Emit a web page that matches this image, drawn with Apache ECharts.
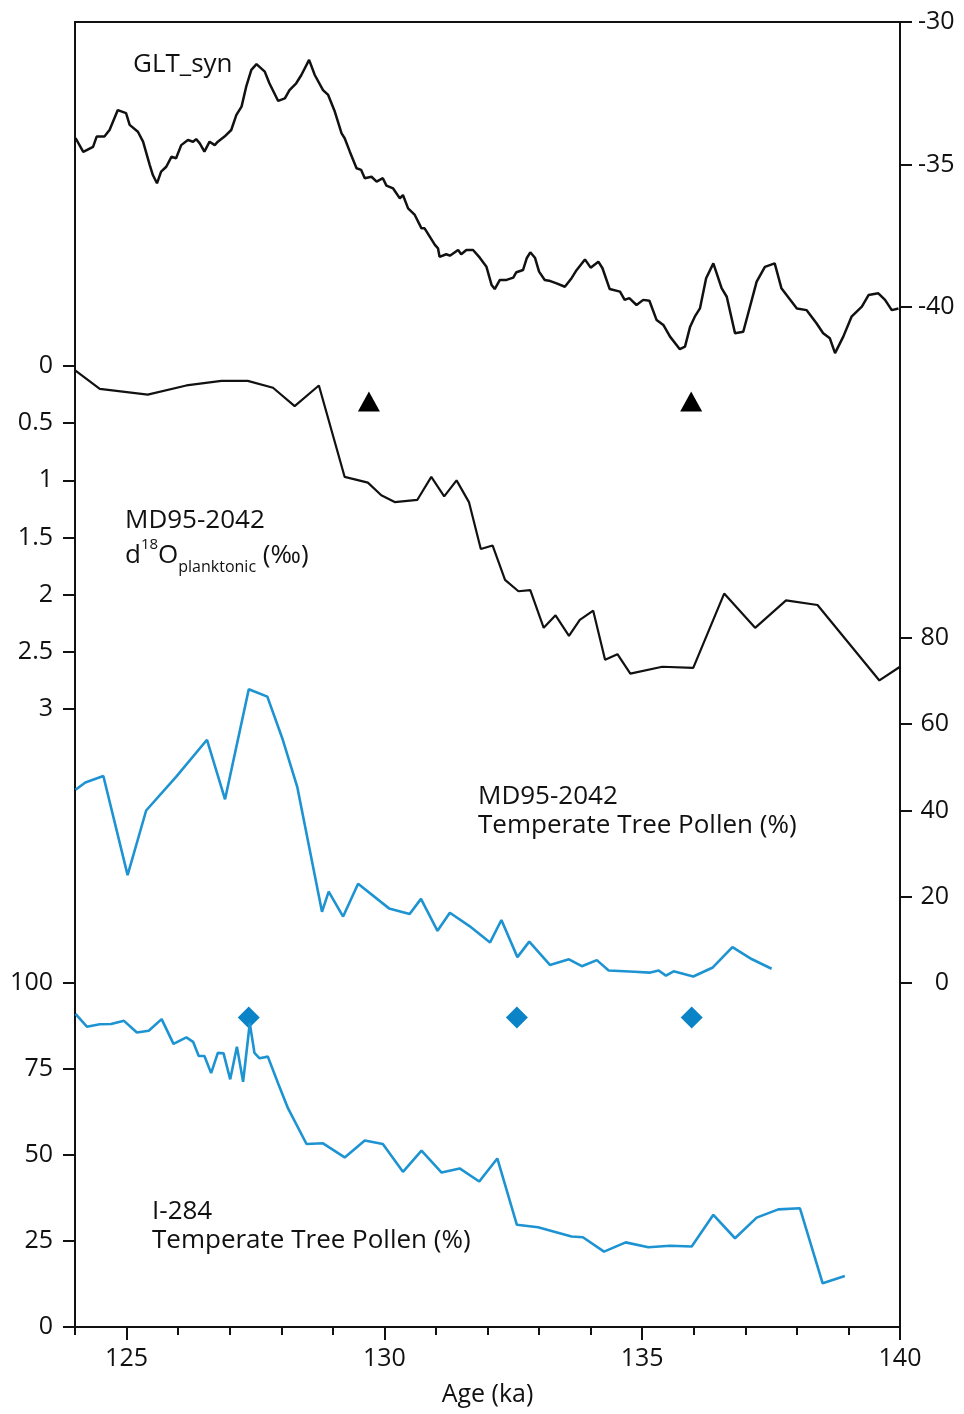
<!DOCTYPE html>
<html>
<head>
<meta charset="utf-8">
<script src="https://cdn.jsdelivr.net/npm/echarts@6/dist/echarts.min.js"></script>
<style>
  html, body { margin: 0; padding: 0; background: #fff; }
  #chart-container { width: 964px; height: 1414px; }
</style>
</head>
<body>
<div id="chart-container"></div>
<script>
// GLT_syn (right axis, top panel)
const gltAge = [124.01,124.16,124.35,124.42,124.57,124.67,124.83,124.99,125.06,125.22,125.32,125.45,125.51,125.59,125.67,125.77,125.87,125.96,126.06,126.19,126.29,126.35,126.42,126.51,126.61,126.71,126.77,126.90,127.03,127.13,127.23,127.32,127.42,127.52,127.68,127.77,127.94,128.07,128.16,128.29,128.39,128.54,128.65,128.81,128.91,129.04,129.17,129.23,129.33,129.46,129.55,129.62,129.75,129.85,129.97,130.04,130.17,130.30,130.36,130.46,130.59,130.72,130.78,130.98,131.04,131.07,131.20,131.27,131.43,131.49,131.59,131.72,131.85,131.98,132.08,132.14,132.24,132.37,132.50,132.56,132.69,132.76,132.83,132.92,133.00,133.11,133.22,133.34,133.50,133.63,133.73,133.89,134.00,134.15,134.23,134.37,134.57,134.66,134.75,134.89,135.02,135.14,135.28,135.41,135.54,135.73,135.83,135.93,136.02,136.12,136.24,136.38,136.54,136.64,136.80,136.96,137.09,137.22,137.38,137.57,137.70,137.80,138.00,138.19,138.38,138.51,138.64,138.74,138.90,139.06,139.26,139.39,139.58,139.71,139.84,139.97];
const gltVal = [-34.07,-34.56,-34.38,-34.02,-34.02,-33.79,-33.09,-33.20,-33.61,-33.85,-34.20,-35.02,-35.37,-35.66,-35.25,-35.08,-34.73,-34.78,-34.32,-34.14,-34.20,-34.11,-34.26,-34.55,-34.20,-34.32,-34.20,-34.02,-33.79,-33.26,-32.97,-32.27,-31.68,-31.48,-31.74,-32.15,-32.77,-32.68,-32.39,-32.15,-31.86,-31.33,-31.86,-32.39,-32.56,-33.15,-33.91,-34.08,-34.55,-35.13,-35.19,-35.48,-35.43,-35.60,-35.48,-35.74,-35.84,-36.19,-36.07,-36.54,-36.77,-37.24,-37.24,-37.82,-37.94,-38.24,-38.15,-38.20,-38.00,-38.15,-38.00,-38.00,-38.27,-38.59,-39.23,-39.37,-39.05,-39.05,-38.97,-38.78,-38.70,-38.29,-38.08,-38.27,-38.76,-39.05,-39.09,-39.17,-39.29,-38.99,-38.70,-38.33,-38.62,-38.41,-38.64,-39.37,-39.46,-39.75,-39.69,-39.93,-39.75,-39.78,-40.46,-40.63,-41.04,-41.48,-41.39,-40.69,-40.34,-40.05,-38.99,-38.47,-39.34,-39.64,-40.92,-40.87,-39.99,-39.11,-38.59,-38.47,-39.34,-39.58,-40.05,-40.11,-40.57,-40.92,-41.10,-41.62,-41.04,-40.34,-39.99,-39.58,-39.52,-39.75,-40.11,-40.05];

// MD95-2042 d18O planktonic (left axis, inverted)
const d18oAge = [124.01,124.48,125.41,126.16,126.84,127.35,127.84,128.26,128.73,129.23,129.68,129.94,130.20,130.64,130.91,131.16,131.40,131.64,131.87,132.10,132.34,132.60,132.83,133.09,133.32,133.58,133.79,134.05,134.28,134.52,134.77,135.39,135.99,136.59,137.19,137.79,138.40,139.60,140.00];
const d18oVal = [0.04,0.20,0.25,0.17,0.13,0.13,0.19,0.35,0.17,0.97,1.02,1.13,1.19,1.17,0.97,1.14,1.00,1.19,1.60,1.57,1.87,1.97,1.96,2.29,2.18,2.36,2.22,2.14,2.57,2.52,2.69,2.63,2.64,1.99,2.29,2.05,2.09,2.75,2.63];
const triangleAge = [129.7, 135.95];
const triangleVal = [0.31, 0.31];

// MD95-2042 temperate tree pollen (right axis)
const mdAge = [124.01,124.20,124.55,125.02,125.38,125.96,126.56,126.91,127.37,127.73,128.03,128.31,128.79,128.92,129.20,129.49,130.09,130.49,130.71,131.03,131.27,131.65,132.05,132.27,132.58,132.81,133.21,133.58,133.83,134.12,134.35,134.85,135.14,135.32,135.46,135.61,135.99,136.37,136.75,137.13,137.51];
const mdPollen = [44.8,46.5,48.0,25.0,40.0,47.8,56.4,42.6,68.1,66.4,56.4,45.5,16.5,21.2,15.4,23.0,17.3,16.0,19.5,12.1,16.3,13.2,9.4,14.6,6.0,9.6,4.2,5.5,3.9,5.3,2.9,2.6,2.4,2.9,1.7,2.7,1.5,3.6,8.3,5.5,3.3];

// I-284 temperate tree pollen (left axis)
const i284Age = [124.01,124.23,124.48,124.70,124.95,125.20,125.43,125.68,125.91,126.16,126.29,126.40,126.51,126.64,126.77,126.88,127.01,127.14,127.26,127.39,127.48,127.58,127.74,127.94,128.13,128.49,128.81,129.23,129.62,129.97,130.36,130.72,131.11,131.46,131.84,132.19,132.57,132.98,133.63,133.85,134.26,134.68,135.12,135.54,135.96,136.38,136.80,137.22,137.64,138.06,138.50,138.93];
const i284Pollen = [91.0,87.3,88.0,88.1,89.0,85.6,86.1,89.5,82.3,84.2,82.9,78.8,78.8,73.8,79.7,79.6,72.0,81.5,71.3,88.3,79.7,78.1,78.6,70.8,63.6,53.2,53.4,49.3,54.2,53.2,45.1,51.3,44.9,46.1,42.3,49.0,29.7,29.0,26.3,26.1,21.9,24.6,23.2,23.6,23.4,32.6,25.8,31.8,34.2,34.5,12.7,14.8];
const diamondAge = [127.37, 132.57, 135.96];
const diamondVal = [90, 90, 90];

// tick labels
const ageMajor = [125, 130, 135, 140];
const ageMinor = [124, 126, 127, 128, 129, 131, 132, 133, 134, 136, 137, 138, 139];
const gltTicks = [-40, -35, -30];
const d18oTicks = [0, 0.5, 1, 1.5, 2, 2.5, 3];
const mdTicks = [0, 20, 40, 60, 80];
const i284Ticks = [0, 25, 50, 75, 100];

const zip = (a, b) => a.map((v, i) => [v, b[i]]);

const FONT = 'Open Sans';
const INK = '#111';
const BLUE = '#1d93d2';
const DIAMOND = '#0a84c6';
const TICK_FS = 25;
const TEXT_FS = 26;

function yAx(pos, min, max, ticks, extra) {
    return Object.assign({
        type: 'value',
        position: pos,
        min: min,
        max: max,
        axisLine: { show: false, onZero: false },
        splitLine: { show: false },
        axisTick: { show: true, customValues: ticks, length: 12, lineStyle: { color: INK, width: 2 } },
        axisLabel: { customValues: ticks, color: INK, fontSize: TICK_FS, fontFamily: FONT, margin: 22 }
    }, extra || {});
}

function note(x, y, text) {
    return { type: 'text', x: x, y: y, style: { text: text, fontSize: TEXT_FS, fontFamily: FONT, fill: INK, verticalAlign: 'middle' } };
}

const chart = echarts.init(document.getElementById('chart-container'));
chart.setOption({
    animation: false,
    backgroundColor: '#fff',
    grid: {
        left: 75, right: 64, top: 22, bottom: 87,
        show: true, borderColor: INK, borderWidth: 2
    },
    xAxis: [
        {
            type: 'value', position: 'bottom', min: 124, max: 140,
            name: 'Age (ka)', nameLocation: 'middle', nameGap: 55,
            nameTextStyle: { color: INK, fontSize: TICK_FS, fontFamily: FONT },
            axisLine: { show: true, onZero: false, lineStyle: { color: INK, width: 2 } },
            splitLine: { show: false },
            axisTick: { customValues: ageMajor, length: 13, lineStyle: { color: INK, width: 2 } },
            axisLabel: { customValues: ageMajor, color: INK, fontSize: TICK_FS, fontFamily: FONT, margin: 19 }
        },
        {
            type: 'value', position: 'bottom', min: 124, max: 140,
            axisLine: { show: false, onZero: false },
            splitLine: { show: false },
            axisTick: { customValues: ageMinor, length: 8, lineStyle: { color: INK, width: 2 } },
            axisLabel: { show: false }
        }
    ],
    yAxis: [
        yAx('right', -75.79, -30, gltTicks, { axisLabel: { customValues: gltTicks, color: INK, fontSize: TICK_FS, fontFamily: FONT, margin: 18 } }),
        yAx('left', -3.009, 8.405, d18oTicks, { inverse: true }),
        yAx('right', -79.77, 222.84, mdTicks, { axisLabel: { customValues: mdTicks, color: INK, fontSize: TICK_FS, fontFamily: FONT, margin: 49, align: 'right' } }),
        yAx('left', 0, 379.36, i284Ticks)
    ],
    series: [
        {
            name: 'GLT_syn', type: 'line', xAxisIndex: 0, yAxisIndex: 0,
            data: zip(gltAge, gltVal), showSymbol: false, symbol: 'none',
            lineStyle: { color: INK, width: 2.5 }
        },
        {
            name: 'MD95-2042 d18O', type: 'line', xAxisIndex: 0, yAxisIndex: 1,
            data: zip(d18oAge, d18oVal), showSymbol: false, symbol: 'none',
            lineStyle: { color: INK, width: 2.2 }
        },
        {
            name: 'tie points', type: 'scatter', xAxisIndex: 0, yAxisIndex: 1,
            data: zip(triangleAge, triangleVal), symbol: 'triangle', symbolSize: [22, 20],
            itemStyle: { color: '#000', opacity: 1 }
        },
        {
            name: 'MD95-2042 pollen', type: 'line', xAxisIndex: 0, yAxisIndex: 2,
            data: zip(mdAge, mdPollen), showSymbol: false, symbol: 'none',
            lineStyle: { color: BLUE, width: 2.6 }
        },
        {
            name: 'I-284 pollen', type: 'line', xAxisIndex: 0, yAxisIndex: 3,
            data: zip(i284Age, i284Pollen), showSymbol: false, symbol: 'none',
            lineStyle: { color: BLUE, width: 2.6 }
        },
        {
            name: 'I-284 tie points', type: 'scatter', xAxisIndex: 0, yAxisIndex: 3,
            data: zip(diamondAge, diamondVal), symbol: 'diamond', symbolSize: [22, 22],
            itemStyle: { color: DIAMOND, opacity: 1 }
        }
    ],
    graphic: [
        note(133, 65, 'GLT_syn'),
        note(125, 521, 'MD95-2042'),
        {
            type: 'text', x: 125, y: 556,
            style: {
                text: 'd{sup|18}O{sub|planktonic} (‰)', fontSize: TEXT_FS, fontFamily: FONT, fill: INK, verticalAlign: 'middle',
                lineHeight: 38,
                rich: {
                    sup: { fontSize: 15, fontFamily: FONT, fill: INK, verticalAlign: 'top', lineHeight: 24 },
                    sub: { fontSize: 16, fontFamily: FONT, fill: INK, verticalAlign: 'bottom', lineHeight: 18 }
                }
            }
        },
        note(478, 797, 'MD95-2042'),
        note(478, 826, 'Temperate Tree Pollen (%)'),
        note(152, 1212, 'I-284'),
        note(152, 1241, 'Temperate Tree Pollen (%)')
    ]
});
</script>
</body>
</html>
